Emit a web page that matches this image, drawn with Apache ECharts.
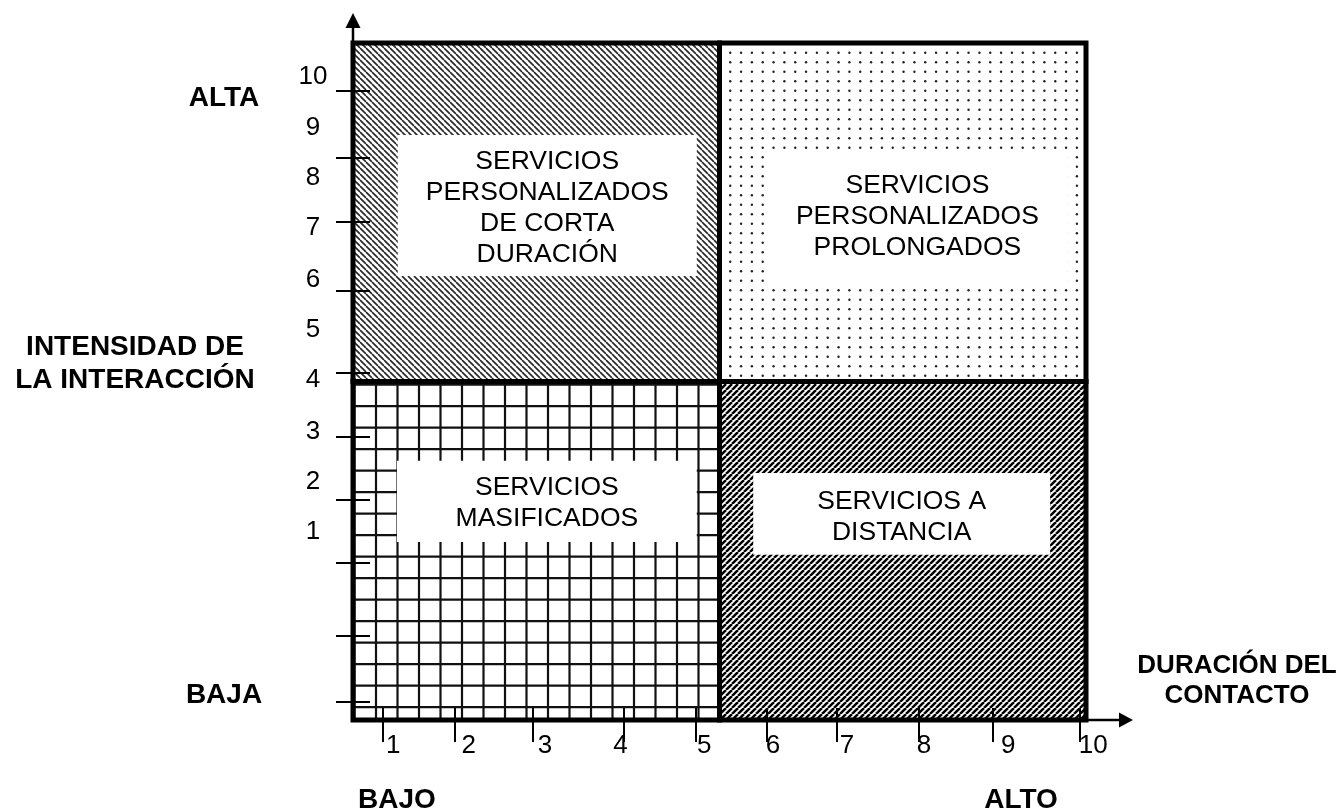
<!DOCTYPE html>
<html><head><meta charset="utf-8">
<script src="https://cdn.jsdelivr.net/npm/echarts@6/dist/echarts.min.js"></script>
<style>html,body{margin:0;padding:0;background:#fff}#c{width:1341px;height:811px}</style>
</head><body><div id="c"></div>
<script>
// ---------------- data ----------------
const quadrantNames = [
  'SERVICIOS\nPERSONALIZADOS\nDE CORTA\nDURACIÓN',
  'SERVICIOS\nPERSONALIZADOS\nPROLONGADOS',
  'SERVICIOS\nMASIFICADOS',
  'SERVICIOS A\nDISTANCIA'
];
const quadrantX = [[0, 5], [5, 10], [0, 5], [5, 10]];
const quadrantY = [[5, 10], [5, 10], [0, 5], [0, 5]];
const quadrantPattern = ['hatchBack', 'dots', 'grid', 'hatchFwd'];

const xTickLabels = ['1', '2', '3', '4', '5', '6', '7', '8', '9', '10'];
const xTickValues = [0.40, 1.39, 2.45, 3.70, 4.68, 5.64, 6.60, 7.72, 8.73, 9.92];
const xLabelValues = [0.55, 1.58, 2.62, 3.65, 4.79, 5.73, 6.74, 7.79, 8.94, 10.10];

const yTickLabels = ['1', '2', '3', '4', '5', '6', '7', '8', '9', '10'];
const yTickValues = [0.27, 1.25, 2.32, 3.26, 4.18, 5.13, 6.34, 7.36, 8.31, 9.30];
const yLabelValues = [2.78, 3.52, 4.26, 5.02, 5.76, 6.50, 7.27, 8.01, 8.74, 9.50];

const yAxisTitle = 'INTENSIDAD DE\nLA INTERACCIÓN';
const xAxisTitle = 'DURACIÓN DEL\nCONTACTO';
const yLowHigh = ['BAJA', 'ALTA'];
const xLowHigh = ['BAJO', 'ALTO'];

// ---------------- layout / style ----------------
const FONT = '"Liberation Sans", Arial, sans-serif';
const boxLayout = [ // [x0, x1, y0, y1] in axis units: white label boxes
  [0.61, 4.69, 6.56, 8.64],
  [5.65, 9.75, 6.37, 8.39],
  [0.60, 4.69, 2.63, 3.83],
  [5.46, 9.51, 2.44, 3.65]
];
const textShift = [3, -4, 2, 3]; // px vertical nudge of text inside each box

function makeTile(w, h, draw) {
  const c = document.createElement('canvas');
  c.width = w; c.height = h;
  const ctx = c.getContext('2d');
  ctx.fillStyle = '#fff';
  ctx.fillRect(0, 0, w, h);
  draw(ctx);
  return c;
}
const patterns = {
  hatchBack: makeTile(6, 6, ctx => {
    ctx.strokeStyle = '#2a2a2a'; ctx.lineWidth = 1.7;
    for (const k of [-6, 0, 6]) { ctx.beginPath(); ctx.moveTo(k, 0); ctx.lineTo(k + 6, 6); ctx.stroke(); }
  }),
  hatchFwd: makeTile(6, 6, ctx => {
    ctx.strokeStyle = '#000'; ctx.lineWidth = 2.5;
    for (const k of [-6, 0, 6]) { ctx.beginPath(); ctx.moveTo(k, 6); ctx.lineTo(k + 6, 0); ctx.stroke(); }
  }),
  dots: makeTile(65, 38, ctx => {
    ctx.fillStyle = '#222';
    for (let i = 0; i < 6; i++) for (let j = 0; j < 4; j++) {
      ctx.beginPath(); ctx.arc(4.4 + i * 10.83, 5.2 + j * 9.5, 1.2, 0, Math.PI * 2); ctx.fill();
    }
  }),
  grid: makeTile(43, 43, ctx => {
    ctx.strokeStyle = '#111'; ctx.lineWidth = 2.2;
    for (const x of [10.5, 32]) { ctx.beginPath(); ctx.moveTo(x, 0); ctx.lineTo(x, 43); ctx.stroke(); }
    for (const y of [19.2, 40.7]) { ctx.beginPath(); ctx.moveTo(0, y); ctx.lineTo(43, y); ctx.stroke(); }
  })
};

function pickLabel(values, texts) {
  return function (v) {
    let best = 0, bd = Infinity;
    values.forEach((x, i) => { const d = Math.abs(x - v); if (d < bd) { bd = d; best = i; } });
    return texts[best];
  };
}

const quadData = quadrantNames.map((n, i) => [quadrantX[i][0], quadrantX[i][1], quadrantY[i][0], quadrantY[i][1], i]);

function rectOf(api, x0, x1, y0, y1) {
  const p0 = api.coord([x0, y1]);
  const p1 = api.coord([x1, y0]);
  return { x: p0[0], y: p0[1], width: p1[0] - p0[0], height: p1[1] - p0[1] };
}

const chart = echarts.init(document.getElementById('c'), null, { renderer: 'canvas' });
const xMax = 10.2;
const gridW = 733 * xMax / 10;

const tickStyle = { color: '#000', width: 2 };
const option = {
  backgroundColor: '#fff',
  animation: false,
  grid: { left: 353, top: 43, width: gridW, height: 677, containLabel: false },
  xAxis: [
    {
      type: 'value', min: 0, max: xMax, position: 'bottom', z: 10,
      axisLine: { show: false }, splitLine: { show: false },
      axisTick: { show: true, customValues: xTickValues, length: 22, lineStyle: tickStyle },
      axisLabel: {
        customValues: xLabelValues, formatter: pickLabel(xLabelValues, xTickLabels),
        margin: 26, verticalAlign: 'middle', fontSize: 26, color: '#000', fontFamily: FONT
      }
    },
    {
      type: 'value', min: 0, max: xMax, position: 'bottom', z: 10,
      axisLine: { show: false }, splitLine: { show: false },
      axisTick: { show: true, inside: true, customValues: xTickValues, length: 12, lineStyle: tickStyle },
      axisLabel: { show: false }
    }
  ],
  yAxis: [
    {
      type: 'value', min: 0, max: 10, position: 'left', z: 10,
      axisLine: { show: false }, splitLine: { show: false },
      axisTick: { show: true, customValues: yTickValues, length: 17, lineStyle: tickStyle },
      axisLabel: {
        customValues: yLabelValues, formatter: pickLabel(yLabelValues, yTickLabels),
        margin: 40, align: 'center', verticalAlign: 'middle', fontSize: 26, color: '#000', fontFamily: FONT
      }
    },
    {
      type: 'value', min: 0, max: 10, position: 'left', z: 10,
      axisLine: { show: false }, splitLine: { show: false },
      axisTick: { show: true, inside: true, customValues: yTickValues, length: 17, lineStyle: tickStyle },
      axisLabel: { show: false }
    }
  ],
  series: [
    { // pattern fills
      type: 'custom', clip: false, z: 2, silent: true,
      data: quadData,
      renderItem: function (params, api) {
        const r = rectOf(api, api.value(0), api.value(1), api.value(2), api.value(3));
        const pat = patterns[quadrantPattern[api.value(4)]];
        return { type: 'rect', shape: r, style: { fill: { image: pat, repeat: 'repeat' }, stroke: null } };
      }
    },
    { // label boxes
      type: 'custom', clip: false, z: 3, silent: true,
      data: quadData,
      renderItem: function (params, api) {
        const i = api.value(4);
        const b = boxLayout[i];
        const r = rectOf(api, b[0], b[1], b[2], b[3]);
        return {
          type: 'group',
          children: [
            { type: 'rect', shape: r, style: { fill: '#fff', stroke: null } },
            {
              type: 'text', x: r.x + r.width / 2, y: r.y + r.height / 2 + textShift[i],
              style: {
                text: quadrantNames[i], fill: '#000', fontSize: 26.5, fontFamily: FONT,
                align: 'center', verticalAlign: 'middle', lineHeight: 31
              }
            }
          ]
        };
      }
    },
    { // quadrant frames
      type: 'custom', clip: false, z: 4, silent: true,
      data: quadData,
      renderItem: function (params, api) {
        const r = rectOf(api, api.value(0), api.value(1), api.value(2), api.value(3));
        return { type: 'rect', shape: r, style: { fill: null, stroke: '#000', lineWidth: 5 } };
      }
    },
    { // axis arrows
      type: 'custom', clip: false, z: 5, silent: true,
      data: [[0, 10, 0], [10, 0, 1]],
      renderItem: function (params, api) {
        const p = api.coord([api.value(0), api.value(1)]);
        const x = p[0], y = p[1];
        if (api.value(2) === 0) {
          return {
            type: 'group', children: [
              { type: 'line', shape: { x1: x, y1: y, x2: x, y2: y - 16 }, style: { stroke: '#000', lineWidth: 2.5 } },
              { type: 'polygon', shape: { points: [[x - 7.5, y - 15], [x + 7.5, y - 15], [x, y - 30]] }, style: { fill: '#000' } }
            ]
          };
        }
        return {
          type: 'group', children: [
            { type: 'line', shape: { x1: x, y1: y, x2: x + 34, y2: y }, style: { stroke: '#000', lineWidth: 2.5 } },
            { type: 'polygon', shape: { points: [[x + 33, y - 7.5], [x + 33, y + 7.5], [x + 47, y]] }, style: { fill: '#000' } }
          ]
        };
      }
    }
  ],
  graphic: [
    { type: 'text', x: 224, y: 98, style: { text: yLowHigh[1], font: 'bold 28px ' + FONT, fill: '#000', align: 'center', verticalAlign: 'middle' } },
    { type: 'text', x: 224, y: 695, style: { text: yLowHigh[0], font: 'bold 28px ' + FONT, fill: '#000', align: 'center', verticalAlign: 'middle' } },
    { type: 'text', x: 135, y: 364, style: { text: yAxisTitle, font: 'bold 28px ' + FONT, fill: '#000', align: 'center', verticalAlign: 'middle', lineHeight: 33 } },
    { type: 'text', x: 397, y: 800, style: { text: xLowHigh[0], font: 'bold 28px ' + FONT, fill: '#000', align: 'center', verticalAlign: 'middle' } },
    { type: 'text', x: 1021, y: 800, style: { text: xLowHigh[1], font: 'bold 28px ' + FONT, fill: '#000', align: 'center', verticalAlign: 'middle' } },
    { type: 'text', x: 1237, y: 681, style: { text: xAxisTitle, font: 'bold 26px ' + FONT, fill: '#000', align: 'center', verticalAlign: 'middle', lineHeight: 30 } }
  ]
};
chart.setOption(option);
</script>
</body></html>
